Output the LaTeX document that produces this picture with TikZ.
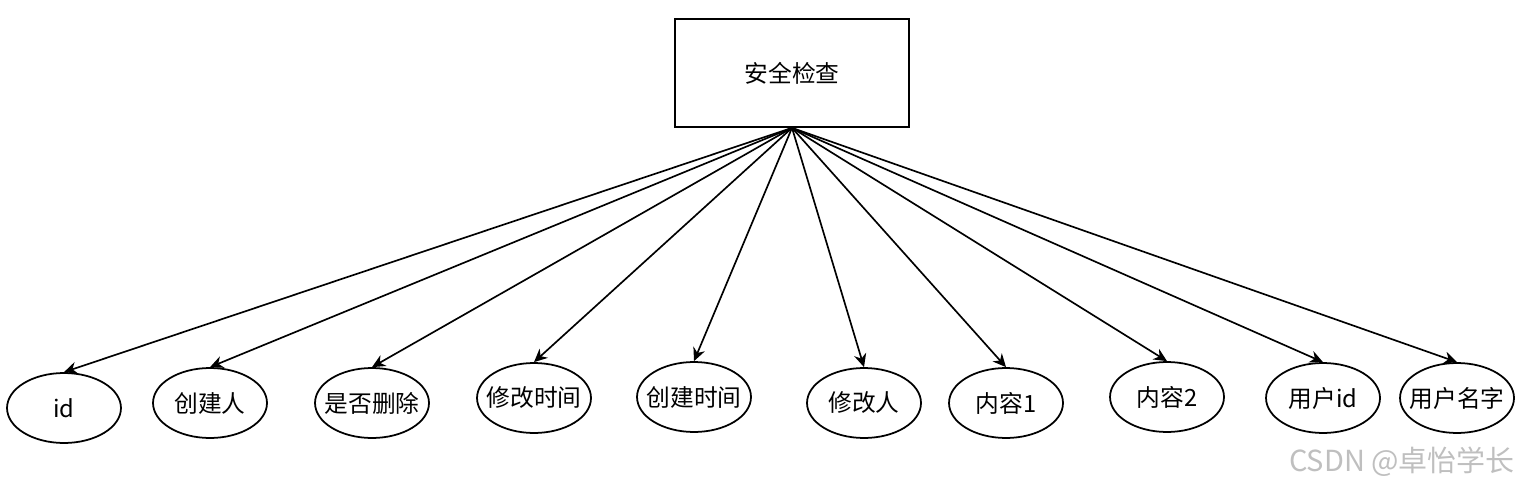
\documentclass[tikz,border=0pt]{standalone}
\usepackage{fontspec}
\setmainfont{Noto Sans CJK SC}
\usetikzlibrary{arrows.meta,shapes.geometric,positioning}

\begin{document}
\begin{tikzpicture}[
    x = 0.02cm, y = -0.02cm, % one unit = one pixel of the sketch
    > = {Stealth[length=7.5pt,width=7pt]}, % arrow head style
    line width = 0.95pt, % line style
    font = \fontsize{13.5}{16}\selectfont
    ]
    \useasboundingbox (0,0) rectangle (1523,489);

    \tikzset{table/.style={
    draw = black,
    line width = 1pt,
    minimum width = 4.68cm,
    minimum height = 2.16cm
    }}
    \tikzset{attr/.style={
    draw = black,
    ellipse,
    line width = 1pt,
    inner sep = 0pt,
    minimum width = 2.28cm,
    minimum height = 1.4cm,
    execute at begin node = {\hbox to 0pt\bgroup\hss},
    execute at end node = {\hss\egroup}
    }}

    \node[table] (check) at (792,73) {安全检查};

    \node[attr] (id) at (64,408) {id};
    \node[attr] (creator) at (210,403) {创建人};
    \node[attr] (deleted) at (372,403) {是否删除};
    \node[attr] (mtime) at (534,398) {修改时间};
    \node[attr] (ctime) at (694,397) {创建时间};
    \node[attr] (modifier) at (864,403) {修改人};
    \node[attr] (content1) at (1006,403) {内容1};
    \node[attr] (content2) at (1167,397) {内容2};
    \node[attr] (userid) at (1323,398) {用户id};
    \node[attr] (username) at (1457,398) {用户名字};

    \path[->] (check.south) edge (id.north);
    \path[->] (check.south) edge (creator.north);
    \path[->] (check.south) edge (deleted.north);
    \path[->] (check.south) edge (mtime.north);
    \path[->] (check.south) edge (ctime.north);
    \path[->] (check.south) edge (modifier.north);
    \path[->] (check.south) edge (content1.north);
    \path[->] (check.south) edge (content2.north);
    \path[->] (check.south) edge (userid.north);
    \path[->] (check.south) edge (username.north);

    % watermark
    \node[text=black!25, font=\fontsize{16.5}{19}\selectfont] (csdn) at (1402,462) {CSDN @卓怡学长};
\end{tikzpicture}
\end{document}
